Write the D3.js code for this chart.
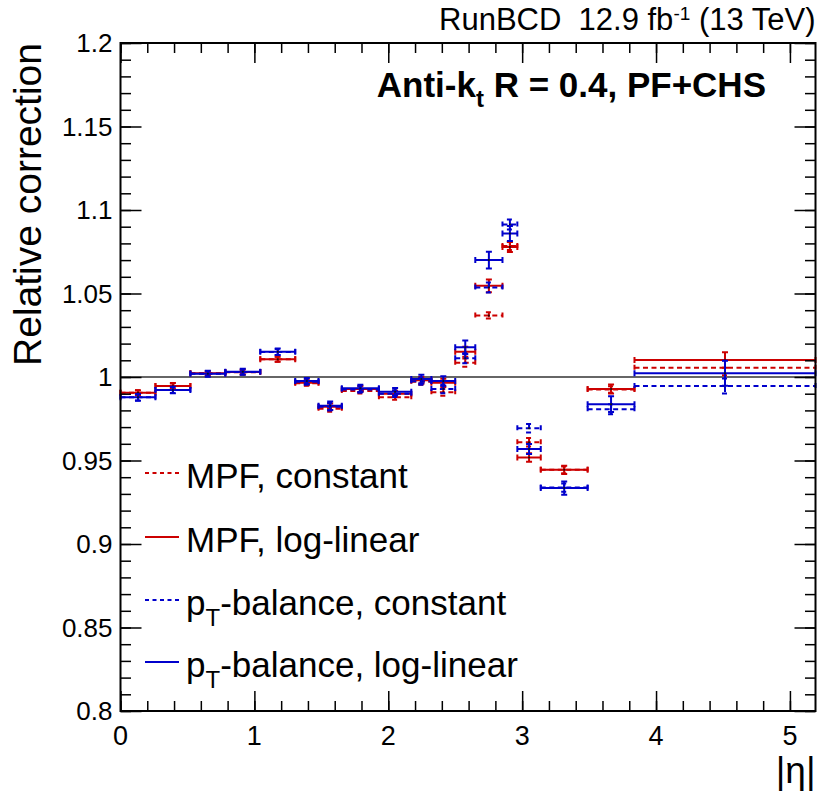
<!DOCTYPE html>
<html>
<head>
<meta charset="utf-8">
<script src="https://cdn.jsdelivr.net/npm/d3@7"></script>
<style>
  html, body { margin: 0; padding: 0; background: #fff; }
  svg { display: block; font-family: "Liberation Sans", Arial, Helvetica, sans-serif; }
</style>
</head>
<body>
<svg id="chart" width="817" height="793"></svg>
<script>
// ---------------- data ----------------
const etaEdges = [0, 0.261, 0.522, 0.783, 1.044, 1.305, 1.479, 1.653, 1.930, 2.172, 2.322, 2.500, 2.650, 2.853, 2.964, 3.139, 3.489, 3.839, 5.191];

const mpfConst    = [0.9906, 0.9946, 1.0022, 1.0028, 1.0106, 0.9962, 0.9810, 0.9916, 0.9879, 0.9972, 0.9908, 1.0086, 1.0369, 1.0785, 0.9609, 0.9444, 0.9925, 1.0056];
const mpfConstErr = [0.0015, 0.0015, 0.0012, 0.0012, 0.0015, 0.0015, 0.0018, 0.0015, 0.0015, 0.0018, 0.0020, 0.0025, 0.0018, 0.0025, 0.0025, 0.0020, 0.0020, 0.0045];

const mpfLogLin    = [0.9906, 0.9946, 1.0022, 1.0030, 1.0106, 0.9966, 0.9822, 0.9928, 0.9900, 0.9980, 0.9965, 1.0151, 1.0546, 1.0779, 0.9518, 0.9444, 0.9928, 1.0102];
const mpfLogLinErr = [0.0015, 0.0018, 0.0012, 0.0015, 0.0015, 0.0015, 0.0020, 0.0018, 0.0018, 0.0020, 0.0025, 0.0030, 0.0038, 0.0030, 0.0025, 0.0025, 0.0027, 0.0046];

const ptConst    = [0.9878, 0.9922, 1.0020, 1.0030, 1.0150, 0.9972, 0.9822, 0.9925, 0.9900, 0.9975, 0.9928, 1.0112, 1.0536, 1.0913, 0.9693, 0.9338, 0.9807, 0.9946];
const ptConstErr = [0.0018, 0.0018, 0.0015, 0.0015, 0.0018, 0.0018, 0.0022, 0.0020, 0.0020, 0.0022, 0.0025, 0.0030, 0.0030, 0.0030, 0.0025, 0.0025, 0.0030, 0.0045];

const ptLogLin    = [0.9878, 0.9922, 1.0020, 1.0032, 1.0151, 0.9976, 0.9828, 0.9932, 0.9912, 0.9988, 0.9976, 1.0178, 1.0700, 1.0859, 0.9569, 0.9335, 0.9837, 1.0022];
const ptLogLinErr = [0.0020, 0.0020, 0.0018, 0.0018, 0.0020, 0.0018, 0.0025, 0.0022, 0.0022, 0.0025, 0.0028, 0.0040, 0.0050, 0.0045, 0.0030, 0.0040, 0.0047, 0.0075];

const seriesNames = ["MPF, constant", "MPF, log-linear", "p_T-balance, constant", "p_T-balance, log-linear"];
const yTickLabels = ["0.8", "0.85", "0.9", "0.95", "1", "1.05", "1.1", "1.15", "1.2"];
const xTickLabels = ["0", "1", "2", "3", "4", "5"];

// ---------------- setup ----------------
const RED = "#cc0000", BLUE = "#0000cc";
const series = [
  { name: seriesNames[0], vals: mpfConst,  errs: mpfConstErr,  color: RED,  dash: "5,3.5" },
  { name: seriesNames[1], vals: mpfLogLin, errs: mpfLogLinErr, color: RED,  dash: null },
  { name: seriesNames[2], vals: ptConst,   errs: ptConstErr,   color: BLUE, dash: "5,3.5" },
  { name: seriesNames[3], vals: ptLogLin,  errs: ptLogLinErr,  color: BLUE, dash: null }
];

const L = 120.5, R = 815.5, T = 43, B = 711;
const svg = d3.select("#chart");
const x = d3.scaleLinear().domain([0, 5.191]).range([L, R]);
const y = d3.scaleLinear().domain([0.8, 1.2]).range([B, T]);

// reference line at 1
svg.append("line")
  .attr("x1", x(0)).attr("x2", x(5.191))
  .attr("y1", y(1)).attr("y2", y(1))
  .attr("stroke", "#333").attr("stroke-width", 1.3);

// points
const cap = 3;
series.forEach(s => {
  const g = svg.append("g")
    .attr("stroke", s.color).attr("stroke-width", 2).attr("fill", "none");
  if (s.dash) g.attr("stroke-dasharray", s.dash);
  s.vals.forEach((v, i) => {
    const x0 = x(etaEdges[i]), x1 = x(etaEdges[i + 1]);
    const xc = x((etaEdges[i] + etaEdges[i + 1]) / 2);
    const yc = y(v), yt = y(v + s.errs[i]), yb = y(v - s.errs[i]);
    const p = d3.path();
    p.moveTo(x0, yc); p.lineTo(x1, yc);
    p.moveTo(xc, yt); p.lineTo(xc, yb);
    g.append("path").attr("d", p.toString());
    const c = d3.path();
    c.moveTo(x0, yc - cap); c.lineTo(x0, yc + cap);
    c.moveTo(x1, yc - cap); c.lineTo(x1, yc + cap);
    c.moveTo(xc - cap, yt); c.lineTo(xc + cap, yt);
    c.moveTo(xc - cap, yb); c.lineTo(xc + cap, yb);
    g.append("path").attr("d", c.toString()).attr("stroke-dasharray", null);
    svg.append("circle").attr("cx", xc).attr("cy", yc).attr("r", 1)
      .attr("fill", "#111");
  });
});

// axes (ROOT style: inside ticks, mirrored)
const fontTick = 26;
const yMajor = d3.range(0, 9).map(i => 0.8 + i * 0.05);
const yMinor = d3.range(0, 41).map(i => 0.8 + i * 0.01);
const xMajor = d3.range(0, 6);
const xMinor = d3.range(0, 26).map(i => i * 0.2).filter(v => v <= 5.191);

const axL = svg.append("g").attr("transform", `translate(${L},0)`)
  .call(d3.axisRight(y).tickValues(yMinor).tickSize(10.5).tickFormat(""));
const axL2 = svg.append("g").attr("transform", `translate(${L},0)`)
  .call(d3.axisRight(y).tickValues(yMajor).tickSize(21).tickFormat(""));
const axR = svg.append("g").attr("transform", `translate(${R},0)`)
  .call(d3.axisLeft(y).tickValues(yMinor).tickSize(10.5).tickFormat(""));
const axR2 = svg.append("g").attr("transform", `translate(${R},0)`)
  .call(d3.axisLeft(y).tickValues(yMajor).tickSize(21).tickFormat(""));
const axB = svg.append("g").attr("transform", `translate(0,${B})`)
  .call(d3.axisTop(x).tickValues(xMinor).tickSize(10).tickFormat(""));
const axB2 = svg.append("g").attr("transform", `translate(0,${B})`)
  .call(d3.axisTop(x).tickValues(xMajor).tickSize(20).tickFormat(""));
const axT = svg.append("g").attr("transform", `translate(0,${T})`)
  .call(d3.axisBottom(x).tickValues(xMinor).tickSize(10).tickFormat(""));
const axT2 = svg.append("g").attr("transform", `translate(0,${T})`)
  .call(d3.axisBottom(x).tickValues(xMajor).tickSize(20).tickFormat(""));
[axL, axL2, axR, axR2, axB, axB2, axT, axT2].forEach(a => {
  a.select(".domain").remove();
  a.selectAll("line").attr("stroke", "#000").attr("stroke-width", 1.5);
});

// frame
svg.append("rect").attr("x", L).attr("y", T).attr("width", R - L).attr("height", B - T)
  .attr("fill", "none").attr("stroke", "#000").attr("stroke-width", 2);

// tick labels
svg.append("g").selectAll("text").data(yMajor).join("text")
  .attr("x", L - 8).attr("y", d => y(d) + fontTick * 0.36)
  .attr("text-anchor", "end").attr("font-size", fontTick)
  .text((d, i) => yTickLabels[i]);
svg.append("g").selectAll("text").data(xMajor).join("text")
  .attr("x", d => x(d)).attr("y", B + 34)
  .attr("text-anchor", "middle").attr("font-size", 27)
  .text((d, i) => xTickLabels[i]);

// axis titles
svg.append("text")
  .attr("transform", `translate(41,${T}) rotate(-90)`)
  .attr("text-anchor", "end").attr("font-size", 39)
  .text("Relative correction");
svg.append("text")
  .attr("x", R).attr("y", 783).attr("text-anchor", "end").attr("font-size", 37)
  .text("|η|");

// header
const hdr = svg.append("text").attr("x", R).attr("y", 30).attr("text-anchor", "end")
  .attr("font-size", 31).attr("xml:space", "preserve");
hdr.append("tspan").text("RunBCD  12.9 fb");
hdr.append("tspan").attr("font-size", 19).attr("dy", -10).text("-1");
hdr.append("tspan").attr("dy", 10).text(" (13 TeV)");

// jet label
const jl = svg.append("text").attr("x", 766).attr("y", 97).attr("text-anchor", "end")
  .attr("font-size", 35).attr("font-weight", "bold");
jl.append("tspan").text("Anti-k");
jl.append("tspan").attr("font-size", 24).attr("dy", 10).text("t");
jl.append("tspan").attr("dy", -10).text(" R = 0.4, PF+CHS");

// legend
const legY = [473, 537, 600, 662];
const lg = svg.append("g");
series.forEach((s, i) => {
  const yy = legY[i];
  const ln = lg.append("line").attr("x1", 145).attr("x2", 179).attr("y1", yy).attr("y2", yy)
    .attr("stroke", s.color).attr("stroke-width", 2);
  if (s.dash) ln.attr("stroke-dasharray", "4,3.5");
  const t = lg.append("text").attr("x", 186).attr("y", yy + 15).attr("font-size", 35);
  if (s.name.startsWith("p_T")) {
    t.append("tspan").text("p");
    t.append("tspan").attr("font-size", 24).attr("dy", 11).text("T");
    t.append("tspan").attr("dy", -11).text(s.name.slice(3));
  } else {
    t.text(s.name);
  }
});
</script>
</body>
</html>
